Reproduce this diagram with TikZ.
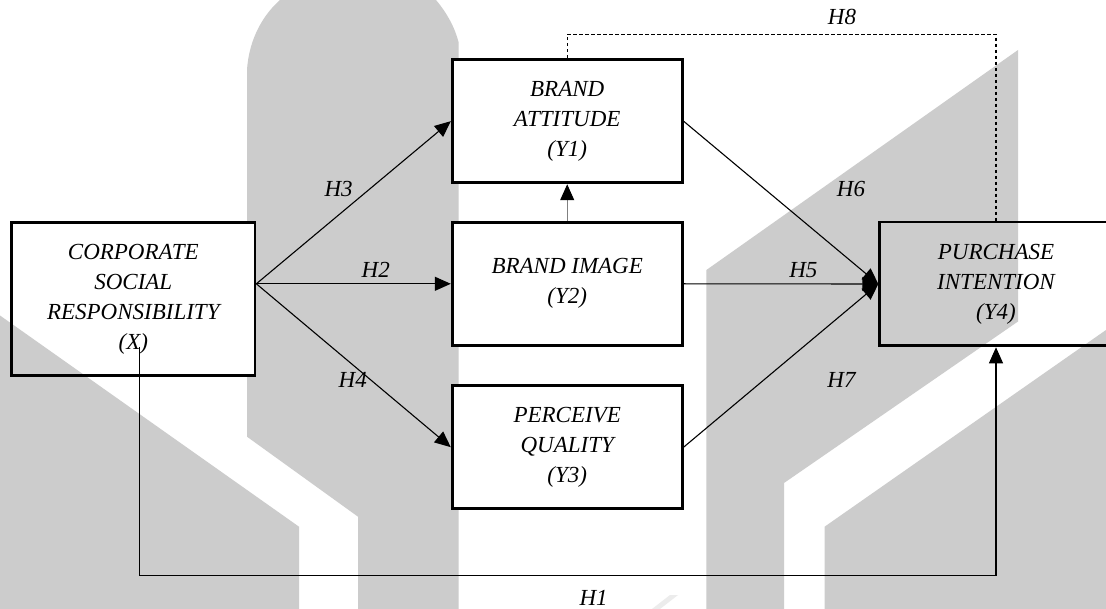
\documentclass[tikz,border=0pt]{standalone}
\usepackage{fontspec}
\setmainfont{Liberation Serif}
\usetikzlibrary{arrows.meta}
\definecolor{wm}{RGB}{204,204,204}
\definecolor{wmlight}{RGB}{236,236,236}
\definecolor{shaft}{RGB}{128,128,128}
\begin{document}
\begin{tikzpicture}[x=1pt,y=-1pt,
  box/.style={draw=black,line width=2.8pt,rectangle,align=center,inner sep=0pt,
    font=\itshape\fontsize{23pt}{30pt}\selectfont},
  boxw/.style={box,minimum width=230pt,minimum height=123.3pt,fill=white},
  lbl/.style={inner sep=0pt,font=\itshape\fontsize{23pt}{30pt}\selectfont},
  conn/.style={line width=1.1pt,-{Triangle[length=16pt,width=14pt]}},
  grayconn/.style={line width=1.1pt,draw=shaft,-{Triangle[length=16pt,width=14pt,color=black]}},
  dashconn/.style={line width=1.2pt,dash pattern=on 3.5pt off 2.5pt},
]
\useasboundingbox (0,0) rectangle (1106,609);
\begin{scope}
\clip (0,0) rectangle (1106,609);
\fill[white] (0,0) rectangle (1106,609);
% watermark
\fill[wm] (247,70) .. controls (249,38) and (264,14) .. (280,0) -- (436,0)
  .. controls (447,13) and (455,28) .. (458.5,42) -- (458.5,609) -- (358,609)
  -- (358,516.7) -- (247,436.7) -- cycle;
\fill[wm] (0,315.5) -- (299,526.7) -- (299,609) -- (0,609) -- cycle;
\fill[wm] (706.4,270) -- (1018,50) -- (1018,321.5) -- (784,483) -- (784,609)
  -- (706.4,609) -- cycle;
\fill[wm] (824.6,526.7) -- (1106,330) -- (1106,609) -- (824.6,609) -- cycle;
\fill[wmlight] (652,609) -- (660,609) -- (678,595) -- (670,595) -- cycle;
\fill[white] (246,224) rectangle (255,374);

% boxes
\node[box,minimum width=243.3pt,minimum height=152.7pt] (csr) at (133.3,299.2)
  {CORPORATE\\SOCIAL\\RESPONSIBILITY\\(X)};
\node[boxw] (ba) at (567.2,121.2) {BRAND\\ATTITUDE\\(Y1)};
\node[boxw] (bi) at (567.2,283.8) {BRAND IMAGE\\(Y2)};
\node[boxw] (pq) at (567.2,447.2) {PERCEIVE\\QUALITY\\(Y3)};
\node[box,minimum width=232.6pt,minimum height=123.8pt] (pi) at (996,284)
  {PURCHASE\\INTENTION\\(Y4)};

% connectors
\draw[conn] (csr.east |- bi.west) -- (ba.west);
\draw[conn] (csr.east |- bi.west) -- (bi.west);
\draw[conn] (csr.east |- bi.west) -- (pq.west);
\draw[grayconn] (bi.north) -- (ba.south);
\draw[conn] (ba.east) -- (pi.west);
\draw[conn] (bi.east) -- (pi.west);
\draw[conn] (pq.east) -- (pi.west);
\coordinate (h8) at (996,34.3);
\draw[dashconn] (ba.north) |- (h8) -- (pi.north);
\coordinate (h1s) at (139.5,347);
\coordinate (h1b) at (139.5,575.7);
\draw[conn] (h1s) -- (h1b) -| (pi.south);

% labels
\node[lbl] (l1) at (593.6,598.3) {H1};
\node[lbl] (l2) at (375.7,270) {H2};
\node[lbl] (l3) at (338.6,189.3) {H3};
\node[lbl] (l4) at (352.7,380) {H4};
\node[lbl] (l5) at (803.4,270) {H5};
\node[lbl] (l6) at (851,189.3) {H6};
\node[lbl] (l7) at (841.5,380) {H7};
\node[lbl] (l8) at (842,16.7) {H8};
\end{scope}
\end{tikzpicture}
\end{document}
